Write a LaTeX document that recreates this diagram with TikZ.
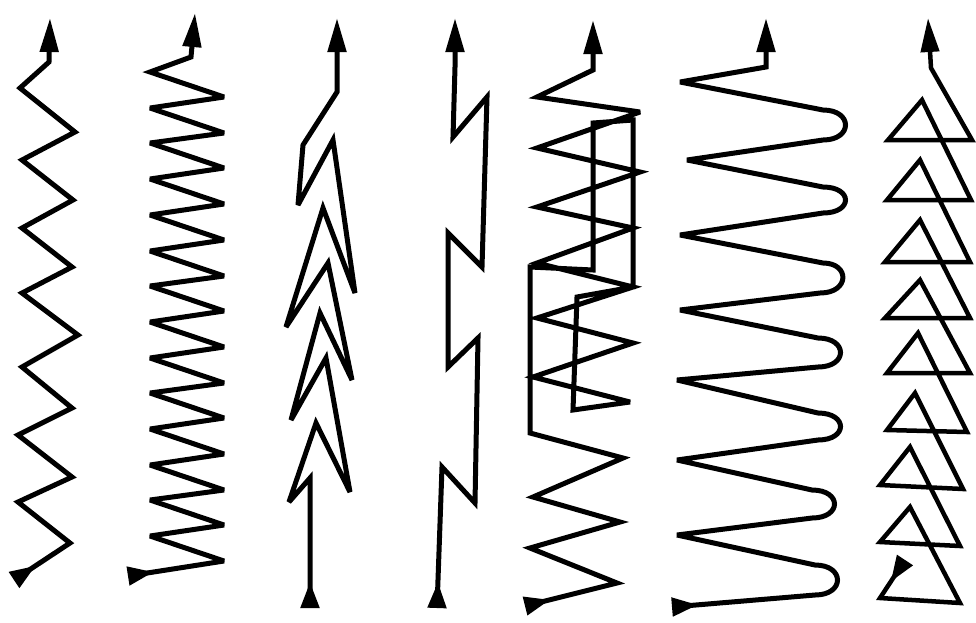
\documentclass[tikz,border=0pt]{standalone}
\usetikzlibrary{arrows.meta}
\begin{document}
\begin{tikzpicture}[x=1pt,y=-1pt,
  weave/.style={line width=5pt, miter limit=4, line join=miter,
    arrows={Triangle[reversed,length=26pt,width=18pt]-Triangle[length=34pt,width=18pt]}}]
\useasboundingbox (0,0) rectangle (976,622);
\fill[white] (0,0) rectangle (976,622);
% column 1: zigzag
\draw[weave] (14,580) -- (70,543) -- (18,502) -- (72,477) -- (18,435) -- (72,408) -- (22,367) -- (78,335) -- (22,293) -- (72,267) -- (22,228) -- (73,200) -- (22,160) -- (75,132) -- (20,88) -- (49,62) -- (50,18);
% column 2: tight zigzag
\draw[weave] (128,576) -- (224,561) -- (150,536) -- (224,525) -- (150,500) -- (224,490) -- (150,465) -- (224,454) -- (150,429) -- (224,418) -- (150,393) -- (224,383) -- (150,358) -- (224,347) -- (150,322) -- (224,311) -- (150,286) -- (224,276) -- (150,251) -- (224,240) -- (150,215) -- (224,204) -- (150,179) -- (224,168) -- (150,143) -- (224,133) -- (150,108) -- (224,97) -- (150,72) -- (191,57) -- (195,13);
% column 3: chevrons
\draw[weave] (310,608) -- (310,478) -- (289,502) -- (316,423) -- (350,492) -- (326,358) -- (291,420) -- (320,313) -- (352,380) -- (328,263) -- (286,327) -- (323,208) -- (355,293) -- (333,140) -- (298,205) -- (303,145) -- (337,92) -- (337,18);
% column 4: stepped line
\draw[weave] (437,608) -- (442,467) -- (475,503) -- (478,338) -- (448,367) -- (448,233) -- (482,267) -- (487,97) -- (453,137) -- (455,67) -- (455,18);
% column 5: zigzag with figure eight
\draw[weave] (525,606) -- (617,583) -- (530,548) -- (620,522) -- (533,497) -- (623,458) -- (530,433) -- (530,267) -- (593,270) -- (593,123) -- (633,120) -- (633,287) -- (577,297) -- (573,410) -- (630,402) -- (533,377) -- (633,343) -- (537,318) -- (633,287) -- (537,263) -- (633,228) -- (537,207) -- (640,172) -- (537,148) -- (640,112) -- (537,97) -- (593,70) -- (593,20);
% column 6: crescent loops
\draw[weave] (672,607) -- (815,595) .. controls (845,595) and (845,565) .. (815,565) -- (677,535) -- (812,518) .. controls (842,518) and (842,490) .. (812,490) -- (677,460) -- (818,440) .. controls (848,440) and (848,413) .. (818,413) -- (677,380) -- (818,367) .. controls (848,367) and (848,338) .. (818,338) -- (680,310) -- (820,293) .. controls (850,293) and (850,263) .. (823,263) -- (680,235) -- (823,213) .. controls (853,213) and (853,187) .. (823,187) -- (687,160) -- (823,140) .. controls (853,140) and (853,110) .. (823,110) -- (680,82) -- (766,67) -- (766,18);
% column 7: triangles
\draw[weave, line width=4.5pt] (905,560) -- (880,598) -- (960,603) -- (910,507) -- (880,542) -- (960,546) -- (910,447) -- (880,485) -- (963,489) -- (915,393) -- (887,430) -- (967,432) -- (918,333) -- (887,373) -- (970,373) -- (920,280) -- (885,318) -- (970,318) -- (920,220) -- (885,262) -- (970,262) -- (920,160) -- (887,200) -- (971,200) -- (922,100) -- (888,140) -- (972,140) -- (931,68) -- (928,18);
\end{tikzpicture}
\end{document}
